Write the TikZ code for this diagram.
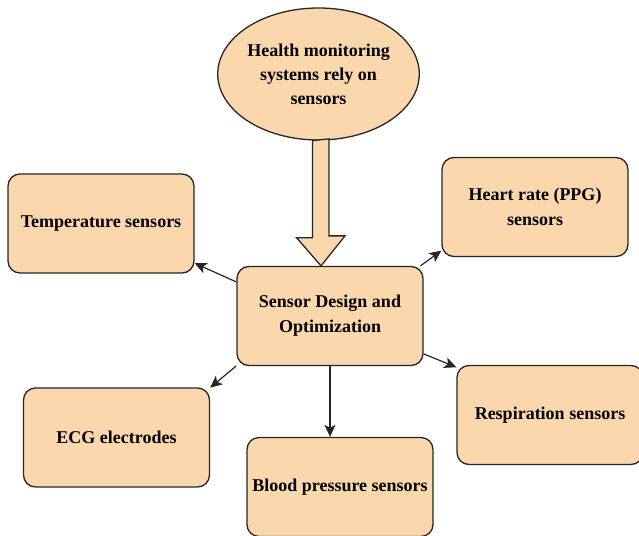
\documentclass[tikz,border=0pt]{standalone}
\usepackage{fontspec}
\setmainfont{Liberation Serif}
\usepackage{tikz}
\usetikzlibrary{calc}
\usetikzlibrary{arrows,arrows.meta,shapes,positioning}

\definecolor{peach}{HTML}{FAD7AC}
\definecolor{edge}{HTML}{262626}

\begin{document}
\begin{tikzpicture}[x=1pt,y=-1pt,
  box/.style={draw=edge,line width=1.3pt,fill=peach,rounded corners=12pt,minimum width=186pt,minimum height=99pt,align=center,inner sep=0pt,font=\fontsize{18}{25}\selectfont\bfseries},
  ell/.style={ellipse,draw=edge,line width=1.3pt,fill=peach,minimum width=187pt,minimum height=132pt,align=center,inner sep=0pt,font=\fontsize{18}{24}\selectfont\bfseries},
  link/.style={-{Stealth[length=12pt,width=11pt,inset=3pt]},line width=1.2pt,draw=edge}]
\useasboundingbox (0,0) rectangle (639,535);
\node[ell] (health) at (318.5,74) {Health monitoring\\systems rely on\\sensors};
\node[box] (design) at (330,316) {Sensor Design and\\Optimization};
\node[box] (temp) at (101,223.5) {Temperature sensors};
\node[box] (heart) at (535,207) {Heart rate (PPG)\\sensors};
\node[box] (resp) at (550,415) {Respiration sensors};
\node[box] (ecg) at (116.5,437.5) {ECG electrodes};
\node[box] (bp) at (340,487) {Blood pressure sensors};
\coordinate (tip) at (design.north -| health.south);
\draw[draw=edge,line width=1.3pt,fill=peach,line join=miter]
  ($(health.south)+(-6,0)$) -- ++(0,97) -- ++(-16,0) -- ($(tip)+(2.5,0)$)
  -- ++(24,-30) -- ++(-16,0) -- ++(0,-97) -- cycle;
\draw[link] (design.160) -- (temp.337);
\draw[link] (design.29) -- (heart.205);
\draw[link] (design.-22) -- (resp.153);
\draw[link] (design.208) -- (ecg.28);
\draw[link] (design.south) -- (design.south |- bp.north);
\end{tikzpicture}
\end{document}
